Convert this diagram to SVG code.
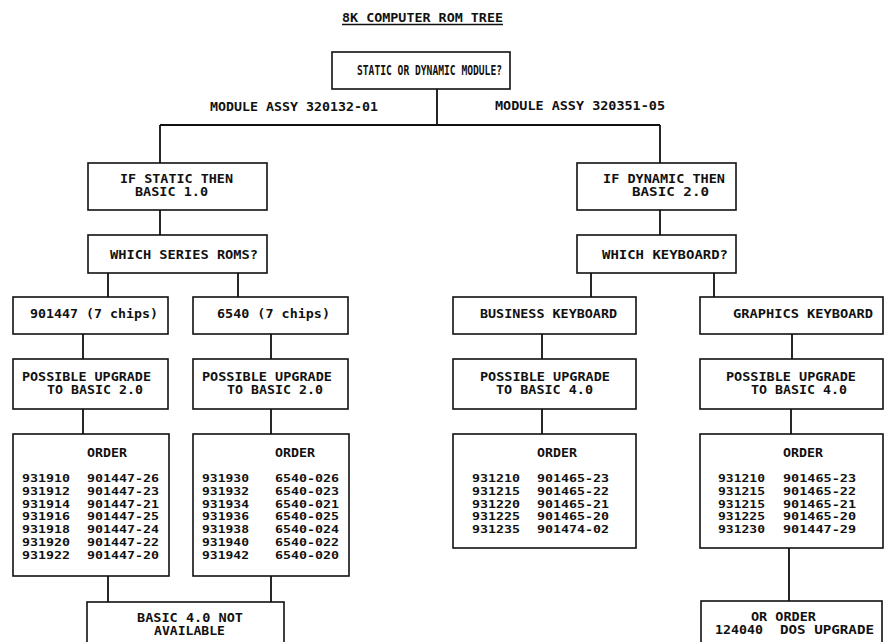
<svg xmlns="http://www.w3.org/2000/svg" width="891" height="642" viewBox="0 0 891 642">
<style>
  .bx{fill:#fff;stroke:#111;stroke-width:1.6}
  .ln{fill:none;stroke:#111;stroke-width:1.8}
  text{font-family:"DejaVu Sans Mono","Liberation Mono",monospace;font-weight:bold;fill:#111;font-size:11.5px}
  .num{font-size:11px}
</style>
<rect width="891" height="642" fill="#fff"/>
<g id="title">
  <text x="342" y="21.5" style="font-size:12.5px" textLength="161" lengthAdjust="spacingAndGlyphs">8K COMPUTER ROM TREE</text>
  <line x1="342" y1="24.5" x2="503" y2="24.5" stroke="#111" stroke-width="1.3"/>
</g>
<g id="connectors">
  <path class="ln" d="M437 89V125M160 125H660M160 125V163M660 125V163"/>
  <path class="ln" d="M160 210V235M108 273V297M238 273V297M83 334V359M271 334V359M83 409V434M271 409V434M108 576V602M271 576V602"/>
  <path class="ln" d="M660 210V235M591 273V297M714 273V297M542 334V359M792 334V359M542 409V434M791 409V434M789 548V601"/>
</g>
<g id="labels">
  <text x="210" y="111" style="font-size:12.5px" textLength="168" lengthAdjust="spacingAndGlyphs">MODULE ASSY 320132-01</text>
  <text x="495" y="110" style="font-size:12.5px" textLength="170" lengthAdjust="spacingAndGlyphs">MODULE ASSY 320351-05</text>
</g>
<g id="n-root">
  <rect class="bx" x="332" y="52" width="178" height="37"/>
  <text x="357" y="75" style="font-size:14px" textLength="145" lengthAdjust="spacingAndGlyphs">STATIC OR DYNAMIC MODULE?</text>
</g>
<g id="n-static">
  <rect class="bx" x="88" y="163" width="179" height="47"/>
  <text x="120" y="183" textLength="113" lengthAdjust="spacingAndGlyphs">IF STATIC THEN</text>
  <text x="135" y="196" textLength="73" lengthAdjust="spacingAndGlyphs">BASIC 1.0</text>
</g>
<g id="n-series">
  <rect class="bx" x="88" y="235" width="179" height="38"/>
  <text x="110" y="259" style="font-size:12.5px" textLength="148" lengthAdjust="spacingAndGlyphs">WHICH SERIES ROMS?</text>
</g>
<g id="n-901447">
  <rect class="bx" x="13" y="297" width="155" height="37"/>
  <text x="30" y="318" style="font-size:12.5px" textLength="128" lengthAdjust="spacingAndGlyphs">901447 (7 chips)</text>
</g>
<g id="n-6540">
  <rect class="bx" x="193" y="297" width="155" height="37"/>
  <text x="217" y="318" style="font-size:12.5px" textLength="113" lengthAdjust="spacingAndGlyphs">6540 (7 chips)</text>
</g>
<g id="n-up1">
  <rect class="bx" x="13" y="359" width="155" height="50"/>
  <text x="22" y="381" textLength="129" lengthAdjust="spacingAndGlyphs">POSSIBLE UPGRADE</text>
  <text x="47" y="394" textLength="96" lengthAdjust="spacingAndGlyphs">TO BASIC 2.0</text>
</g>
<g id="n-up2">
  <rect class="bx" x="193" y="359" width="155" height="50"/>
  <text x="202" y="381" textLength="130" lengthAdjust="spacingAndGlyphs">POSSIBLE UPGRADE</text>
  <text x="227" y="394" textLength="96" lengthAdjust="spacingAndGlyphs">TO BASIC 2.0</text>
</g>
<g id="n-order1">
  <rect class="bx" x="13" y="434" width="156" height="142"/>
  <text x="87" y="457" style="font-size:12.5px" textLength="40" lengthAdjust="spacingAndGlyphs">ORDER</text>
  <text class="num" x="22" y="482" textLength="48" lengthAdjust="spacingAndGlyphs">931910</text><text class="num" x="87" y="482" textLength="72" lengthAdjust="spacingAndGlyphs">901447-26</text>
  <text class="num" x="22" y="494.8" textLength="48" lengthAdjust="spacingAndGlyphs">931912</text><text class="num" x="87" y="494.8" textLength="72" lengthAdjust="spacingAndGlyphs">901447-23</text>
  <text class="num" x="22" y="507.6" textLength="48" lengthAdjust="spacingAndGlyphs">931914</text><text class="num" x="87" y="507.6" textLength="72" lengthAdjust="spacingAndGlyphs">901447-21</text>
  <text class="num" x="22" y="520.4" textLength="48" lengthAdjust="spacingAndGlyphs">931916</text><text class="num" x="87" y="520.4" textLength="72" lengthAdjust="spacingAndGlyphs">901447-25</text>
  <text class="num" x="22" y="533.2" textLength="48" lengthAdjust="spacingAndGlyphs">931918</text><text class="num" x="87" y="533.2" textLength="72" lengthAdjust="spacingAndGlyphs">901447-24</text>
  <text class="num" x="22" y="546" textLength="48" lengthAdjust="spacingAndGlyphs">931920</text><text class="num" x="87" y="546" textLength="72" lengthAdjust="spacingAndGlyphs">901447-22</text>
  <text class="num" x="22" y="558.8" textLength="48" lengthAdjust="spacingAndGlyphs">931922</text><text class="num" x="87" y="558.8" textLength="72" lengthAdjust="spacingAndGlyphs">901447-20</text>
</g>
<g id="n-order2">
  <rect class="bx" x="193" y="434" width="156" height="142"/>
  <text x="275" y="457" style="font-size:12.5px" textLength="40" lengthAdjust="spacingAndGlyphs">ORDER</text>
  <text class="num" x="202" y="482" textLength="47" lengthAdjust="spacingAndGlyphs">931930</text><text class="num" x="275" y="482" textLength="64" lengthAdjust="spacingAndGlyphs">6540-026</text>
  <text class="num" x="202" y="494.8" textLength="47" lengthAdjust="spacingAndGlyphs">931932</text><text class="num" x="275" y="494.8" textLength="64" lengthAdjust="spacingAndGlyphs">6540-023</text>
  <text class="num" x="202" y="507.6" textLength="47" lengthAdjust="spacingAndGlyphs">931934</text><text class="num" x="275" y="507.6" textLength="64" lengthAdjust="spacingAndGlyphs">6540-021</text>
  <text class="num" x="202" y="520.4" textLength="47" lengthAdjust="spacingAndGlyphs">931936</text><text class="num" x="275" y="520.4" textLength="64" lengthAdjust="spacingAndGlyphs">6540-025</text>
  <text class="num" x="202" y="533.2" textLength="47" lengthAdjust="spacingAndGlyphs">931938</text><text class="num" x="275" y="533.2" textLength="64" lengthAdjust="spacingAndGlyphs">6540-024</text>
  <text class="num" x="202" y="546" textLength="47" lengthAdjust="spacingAndGlyphs">931940</text><text class="num" x="275" y="546" textLength="64" lengthAdjust="spacingAndGlyphs">6540-022</text>
  <text class="num" x="202" y="558.8" textLength="47" lengthAdjust="spacingAndGlyphs">931942</text><text class="num" x="275" y="558.8" textLength="64" lengthAdjust="spacingAndGlyphs">6540-020</text>
</g>
<g id="n-na">
  <rect class="bx" x="87" y="602" width="197" height="60"/>
  <text x="137" y="622" textLength="106" lengthAdjust="spacingAndGlyphs">BASIC 4.0 NOT</text>
  <text x="154" y="635" textLength="71" lengthAdjust="spacingAndGlyphs">AVAILABLE</text>
</g>
<g id="n-dynamic">
  <rect class="bx" x="577" y="163" width="159" height="47"/>
  <text x="603" y="183" textLength="122" lengthAdjust="spacingAndGlyphs">IF DYNAMIC THEN</text>
  <text x="632" y="196" textLength="77" lengthAdjust="spacingAndGlyphs">BASIC 2.0</text>
</g>
<g id="n-keyboard">
  <rect class="bx" x="577" y="235" width="159" height="38"/>
  <text x="602" y="259" style="font-size:12.5px" textLength="126" lengthAdjust="spacingAndGlyphs">WHICH KEYBOARD?</text>
</g>
<g id="n-business">
  <rect class="bx" x="453" y="297" width="183" height="37"/>
  <text x="480" y="318" style="font-size:12.5px" textLength="137" lengthAdjust="spacingAndGlyphs">BUSINESS KEYBOARD</text>
</g>
<g id="n-graphics">
  <rect class="bx" x="700" y="297" width="183" height="37"/>
  <text x="733" y="318" style="font-size:12.5px" textLength="140" lengthAdjust="spacingAndGlyphs">GRAPHICS KEYBOARD</text>
</g>
<g id="n-up3">
  <rect class="bx" x="453" y="359" width="183" height="50"/>
  <text x="480" y="381" textLength="130" lengthAdjust="spacingAndGlyphs">POSSIBLE UPGRADE</text>
  <text x="496" y="394" textLength="97" lengthAdjust="spacingAndGlyphs">TO BASIC 4.0</text>
</g>
<g id="n-up4">
  <rect class="bx" x="700" y="359" width="183" height="50"/>
  <text x="726" y="381" textLength="130" lengthAdjust="spacingAndGlyphs">POSSIBLE UPGRADE</text>
  <text x="751" y="394" textLength="96" lengthAdjust="spacingAndGlyphs">TO BASIC 4.0</text>
</g>
<g id="n-order3">
  <rect class="bx" x="453" y="434" width="183" height="114"/>
  <text x="537" y="457" style="font-size:12.5px" textLength="40" lengthAdjust="spacingAndGlyphs">ORDER</text>
  <text class="num" x="472" y="482" textLength="48" lengthAdjust="spacingAndGlyphs">931210</text><text class="num" x="537" y="482" textLength="72" lengthAdjust="spacingAndGlyphs">901465-23</text>
  <text class="num" x="472" y="494.8" textLength="48" lengthAdjust="spacingAndGlyphs">931215</text><text class="num" x="537" y="494.8" textLength="72" lengthAdjust="spacingAndGlyphs">901465-22</text>
  <text class="num" x="472" y="507.6" textLength="48" lengthAdjust="spacingAndGlyphs">931220</text><text class="num" x="537" y="507.6" textLength="72" lengthAdjust="spacingAndGlyphs">901465-21</text>
  <text class="num" x="472" y="520.4" textLength="48" lengthAdjust="spacingAndGlyphs">931225</text><text class="num" x="537" y="520.4" textLength="72" lengthAdjust="spacingAndGlyphs">901465-20</text>
  <text class="num" x="472" y="533.2" textLength="48" lengthAdjust="spacingAndGlyphs">931235</text><text class="num" x="537" y="533.2" textLength="72" lengthAdjust="spacingAndGlyphs">901474-02</text>
</g>
<g id="n-order4">
  <rect class="bx" x="700" y="434" width="183" height="114"/>
  <text x="783" y="457" style="font-size:12.5px" textLength="40" lengthAdjust="spacingAndGlyphs">ORDER</text>
  <text class="num" x="718" y="482" textLength="47" lengthAdjust="spacingAndGlyphs">931210</text><text class="num" x="783" y="482" textLength="73" lengthAdjust="spacingAndGlyphs">901465-23</text>
  <text class="num" x="718" y="494.8" textLength="47" lengthAdjust="spacingAndGlyphs">931215</text><text class="num" x="783" y="494.8" textLength="73" lengthAdjust="spacingAndGlyphs">901465-22</text>
  <text class="num" x="718" y="507.6" textLength="47" lengthAdjust="spacingAndGlyphs">931215</text><text class="num" x="783" y="507.6" textLength="73" lengthAdjust="spacingAndGlyphs">901465-21</text>
  <text class="num" x="718" y="520.4" textLength="47" lengthAdjust="spacingAndGlyphs">931225</text><text class="num" x="783" y="520.4" textLength="73" lengthAdjust="spacingAndGlyphs">901465-20</text>
  <text class="num" x="718" y="533.2" textLength="47" lengthAdjust="spacingAndGlyphs">931230</text><text class="num" x="783" y="533.2" textLength="73" lengthAdjust="spacingAndGlyphs">901447-29</text>
</g>
<g id="n-dos">
  <rect class="bx" x="701" y="601" width="181" height="60"/>
  <text x="751" y="621" textLength="65" lengthAdjust="spacingAndGlyphs">OR ORDER</text>
  <text x="715" y="634" textLength="48" lengthAdjust="spacingAndGlyphs">124040</text>
  <text x="780" y="634" textLength="94" lengthAdjust="spacingAndGlyphs">DOS UPGRADE</text>
</g>
</svg>
